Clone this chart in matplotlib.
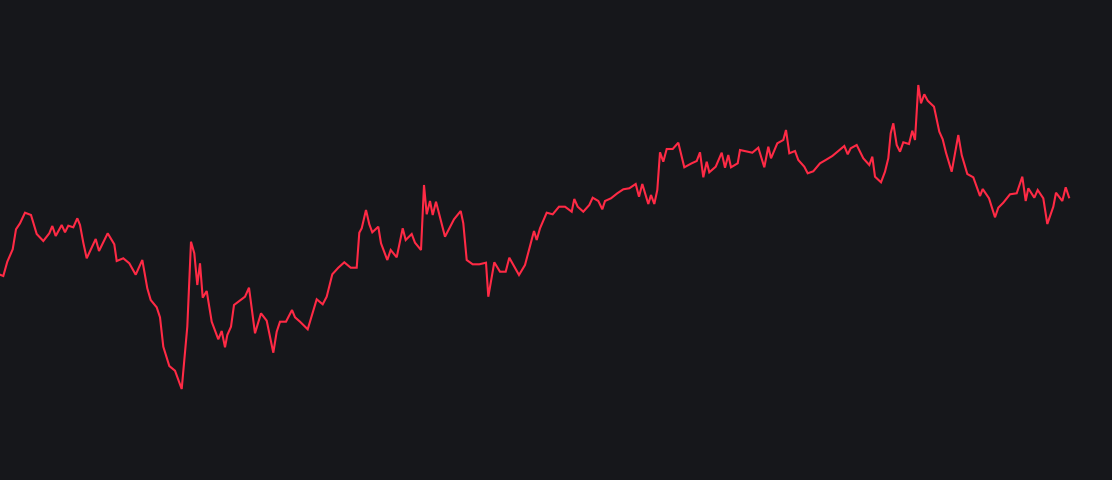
import matplotlib
matplotlib.use("Agg")
import matplotlib.pyplot as plt

# position along the time axis and level of the series
day = [0, 3.3, 7.3, 12.7, 16, 20, 25, 31, 36.7, 43.3, 49.3, 52.3, 55.7, 61.7, 65, 68.3,
       73.3, 77.3, 80, 83.3, 86.7, 95.7, 99, 107.7, 114.3, 116.7, 123.3, 129.3, 135.7,
       142.3, 147.3, 150.7, 156.7, 160, 163.3, 169.3, 175, 181.7, 187.3, 191, 194.3,
       197.3, 200, 202.7, 206.7, 211.7, 218.3, 221.7, 225, 227.3, 231, 234, 245, 249,
       255, 261, 266.7, 273.3, 276.7, 280, 286, 292, 295, 300, 307.7, 316.7, 322.7,
       326.7, 332.3, 338.3, 344.3, 350.7, 356.7, 359.3, 361.7, 366, 369.3, 372.3, 378.3,
       381, 387.3, 390.7, 396.7, 402.7, 405.7, 411.7, 415, 421, 424, 426.7, 430, 432.7,
       436, 445, 454, 460.7, 463.3, 466.7, 472.7, 479.3, 486, 488.3, 494.3, 500, 505.7,
       509.3, 519, 525, 534, 536.7, 540, 546.7, 552.7, 559, 565, 571.7, 574.3, 577.7,
       583.3, 589.3, 592.7, 598.3, 602.3, 605, 611, 617.3, 623.3, 629.3, 635.7, 639,
       642.3, 648.3, 651, 654.3, 657.3, 660, 663.3, 666.7, 672.7, 678.3, 684.3, 691.7,
       696.7, 700, 703.3, 706.7, 709.3, 715.7, 721.7, 725, 728.3, 731, 737.7, 740, 752.3,
       758.3, 764.3, 768.3, 771, 777.3, 783.3, 786, 789.3, 795, 798.3, 804.3, 807.7,
       813.3, 820, 825.7, 832.3, 838.3, 844.3, 847.7, 850.7, 856.7, 863.3, 869.3, 872.3,
       875, 881, 885, 888.3, 890.7, 893.3, 896.7, 900, 903.3, 909, 912.3, 915, 918.3,
       921, 924.3, 927.7, 934, 939.3, 942.7, 946, 951.7, 958.3, 961.7, 967.3, 973.3, 980,
       982.7, 989, 995, 998.3, 1003.3, 1010, 1016.7, 1022.3, 1025.7, 1028.3, 1034.3,
       1037.7, 1043.3, 1047.3, 1053.3, 1056, 1062.3, 1065.7, 1069]
level = [205.3, 204, 218.3, 230.7, 250.7, 256.7, 267.3, 265, 246, 239, 246.7, 254, 244,
         255, 247.7, 254.3, 252.7, 261.7, 255, 237.3, 221.7, 241, 229, 246.7, 235.7, 219,
         221.7, 216.7, 205.3, 220, 191.7, 180, 172.7, 162.7, 133.3, 114, 109.3, 91,
         153.3, 238.3, 226.7, 195, 216.7, 182.3, 189, 158.3, 140.7, 149, 132.7, 145,
         153.3, 175, 183.3, 192.3, 146.7, 166.7, 159.3, 127.3, 148.3, 158.3, 158.3, 170,
         162.7, 158.3, 150.7, 180.7, 175.7, 183.3, 205.7, 212.3, 217.7, 212.3, 212.3,
         247.3, 251.7, 270, 255.7, 247.7, 253.3, 236.7, 220, 230, 222.7, 251.7, 240, 246,
         237.3, 230, 295, 265.7, 279, 265, 278.3, 243.3, 260.7, 269, 256.7, 220, 215.7,
         215.7, 217.3, 183.3, 217.7, 208.3, 208.3, 222.3, 205, 215, 249, 240, 251.7,
         267.3, 265.7, 273.3, 273.3, 268.3, 281, 273.3, 268.3, 275, 282.3, 279, 270.7,
         279, 281.7, 286.7, 290.7, 291.7, 296, 283.3, 296, 276, 285, 276, 290, 327.7,
         318.3, 331, 331, 337.3, 312.7, 316.7, 319, 327.7, 302.7, 318.3, 307.7, 313.3,
         327.3, 312.3, 325, 312.7, 316.7, 330, 327.3, 332.3, 312.7, 333.3, 321.7, 336.7,
         340, 350, 326.7, 329, 320, 313.3, 306.7, 308.7, 316.7, 320, 324, 329, 334, 325.7,
         331.7, 335, 321.7, 315, 323.3, 303.3, 297.7, 308.3, 321.7, 346.7, 356.7, 335,
         328.3, 337.7, 336, 349.3, 340, 395, 376.7, 385.7, 379.3, 373.3, 348.3, 340.7,
         327.3, 308.3, 345, 325, 306, 302.7, 284, 291, 281.7, 262.7, 272.3, 277.3, 285.7,
         286.7, 303.3, 279, 291.7, 282.3, 290, 281.7, 256, 273.3, 287.3, 279, 292.7, 282.7]

BG = "#16171b"
LINE = "#ff2a45"

fig = plt.figure(figsize=(11.12, 4.8), dpi=100, facecolor=BG)
ax = fig.add_axes([0, 0, 1, 1])
ax.set_facecolor(BG)
ax.plot(day, level, color=LINE, linewidth=1.5, solid_joinstyle="miter")
ax.set_xlim(0, 1112)
ax.set_ylim(0, 480)
ax.axis("off")

fig.savefig("out.png", dpi=100, facecolor=BG)
